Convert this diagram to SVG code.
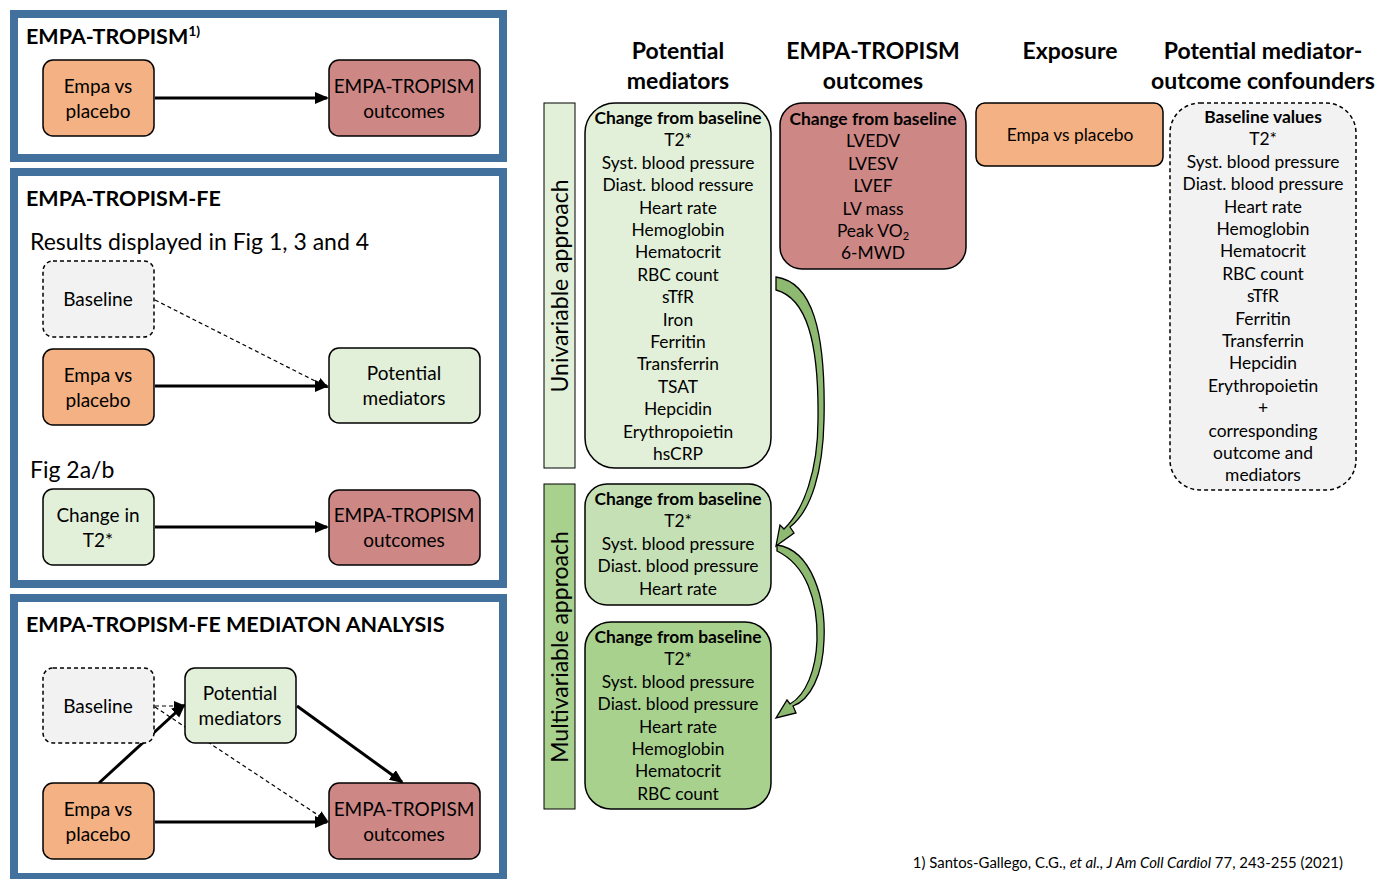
<svg xmlns="http://www.w3.org/2000/svg" width="1378" height="879" viewBox="0 0 1378 879">
<style>
text{font-family:Lato,"Liberation Sans",sans-serif;fill:#000}
.panel{fill:#fff;stroke:#41719C;stroke-width:8}
.node{stroke:#000;stroke-width:1.5}
.orange{fill:#F4B183}
.rose{fill:#CD8785}
.lgreen{fill:#E2F0D9}
.mgreen{fill:#C5E0B4}
.green{fill:#A9D18E}
.grey{fill:#F2F2F2}
.dash{stroke-dasharray:4 3}
.ptitle{font-size:21.5px;font-weight:bold}
.ntxt{font-size:19px;text-anchor:middle}
.ltxt{font-size:17.4px;text-anchor:middle}
.htxt{font-size:23px;font-weight:bold;text-anchor:middle}
.vtxt{font-size:23px;text-anchor:middle}
.thick{stroke:#000;stroke-width:3;fill:none}
.thin{stroke:#000;stroke-width:1.2;fill:none;stroke-dasharray:4 3}
.carrow{fill:#8DB971;stroke:#000;stroke-width:1.3}
</style>
<defs>
<marker id="ah" markerUnits="userSpaceOnUse" markerWidth="16" markerHeight="14" refX="12" refY="6" orient="auto"><path d="M0,0 L14,6 L0,12 z" fill="#000"/></marker>
<marker id="ahs" markerUnits="userSpaceOnUse" markerWidth="14" markerHeight="12" refX="10" refY="5" orient="auto"><path d="M0,0 L12,5 L0,10 z" fill="#000"/></marker>
</defs>

<!-- panels -->
<g id="panel1"><rect class="panel" x="14" y="14" width="489" height="144"/>
<text class="ptitle" x="26" y="44">EMPA-TROPISM<tspan font-size="14" dy="-8">1)</tspan></text></g>
<g id="panel2"><rect class="panel" x="14" y="172" width="489" height="412"/>
<text class="ptitle" x="26" y="206">EMPA-TROPISM-FE</text>
<text x="30" y="250" font-size="23">Results displayed in Fig 1, 3 and 4</text>
<text x="30" y="478" font-size="23">Fig 2a/b</text></g>
<g id="panel3"><rect class="panel" x="14" y="598" width="489" height="279"/>
<text class="ptitle" x="26" y="632">EMPA-TROPISM-FE MEDIATON ANALYSIS</text></g>

<!-- connectors -->
<g id="connectors">
<line class="thick" x1="155" y1="98" x2="327" y2="98" marker-end="url(#ah)"/>
<line class="thin" x1="155" y1="300" x2="327" y2="387" marker-end="url(#ahs)"/>
<line class="thick" x1="155" y1="386" x2="327" y2="386" marker-end="url(#ah)"/>
<line class="thick" x1="155" y1="527" x2="327" y2="527" marker-end="url(#ah)"/>
<line class="thin" x1="155" y1="707" x2="327" y2="821" marker-end="url(#ahs)"/>
<line class="thin" x1="155" y1="706" x2="184" y2="706" marker-end="url(#ahs)"/>
<line class="thick" x1="99" y1="783" x2="184" y2="705" marker-end="url(#ah)"/>
<line class="thick" x1="297" y1="706" x2="402" y2="782" marker-end="url(#ah)"/>
<line class="thick" x1="155" y1="822" x2="327" y2="822" marker-end="url(#ah)"/>
<path class="carrow" d="M776,277 C812,282 826,330 824,420 C823,470 812,510 790,527 L794,533 L776,546 L780,525 L784,529 C804,510 818,470 818,420 C819,340 806,298 776,290 Z"/>
<path class="carrow" d="M777,545 C812,550 826,600 824,640 C823,675 810,700 793,706 L796,713 L776,718 L787,700 L790,704 C806,695 816,670 817,640 C818,600 806,565 777,551 Z"/>
</g>

<!-- panel 1 nodes -->
<g id="p1-empa"><rect class="node orange" x="43" y="60" width="111" height="76" rx="10"/>
<text class="ntxt" x="98" y="93">Empa vs</text><text class="ntxt" x="98" y="118">placebo</text></g>
<g id="p1-out"><rect class="node rose" x="329" y="60" width="151" height="76" rx="10"/>
<text class="ntxt" x="404" y="93">EMPA-TROPISM</text><text class="ntxt" x="404" y="118">outcomes</text></g>

<!-- panel 2 nodes -->
<g id="p2-base"><rect class="node grey dash" x="43" y="261" width="111" height="76" rx="10"/>
<text class="ntxt" x="98" y="306">Baseline</text></g>
<g id="p2-empa"><rect class="node orange" x="43" y="349" width="111" height="76" rx="10"/>
<text class="ntxt" x="98" y="382">Empa vs</text><text class="ntxt" x="98" y="407">placebo</text></g>
<g id="p2-med"><rect class="node lgreen" x="329" y="348" width="151" height="75" rx="10"/>
<text class="ntxt" x="404" y="380">Potential</text><text class="ntxt" x="404" y="405">mediators</text></g>
<g id="p2-t2"><rect class="node lgreen" x="43" y="489" width="111" height="76" rx="10"/>
<text class="ntxt" x="98" y="522">Change in</text><text class="ntxt" x="98" y="547">T2*</text></g>
<g id="p2-out"><rect class="node rose" x="329" y="490" width="151" height="75" rx="10"/>
<text class="ntxt" x="404" y="522">EMPA-TROPISM</text><text class="ntxt" x="404" y="547">outcomes</text></g>

<!-- panel 3 nodes -->
<g id="p3-base"><rect class="node grey dash" x="43" y="668" width="111" height="75" rx="10"/>
<text class="ntxt" x="98" y="713">Baseline</text></g>
<g id="p3-med"><rect class="node lgreen" x="185" y="668" width="111" height="75" rx="10"/>
<text class="ntxt" x="240" y="700">Potential</text><text class="ntxt" x="240" y="725">mediators</text></g>
<g id="p3-empa"><rect class="node orange" x="43" y="783" width="111" height="76" rx="10"/>
<text class="ntxt" x="98" y="816">Empa vs</text><text class="ntxt" x="98" y="841">placebo</text></g>
<g id="p3-out"><rect class="node rose" x="329" y="783" width="151" height="76" rx="10"/>
<text class="ntxt" x="404" y="816">EMPA-TROPISM</text><text class="ntxt" x="404" y="841">outcomes</text></g>

<!-- headers -->
<g id="headers">
<text class="htxt" x="678" y="59">Potential</text><text class="htxt" x="678" y="89">mediators</text>
<text class="htxt" x="873" y="59">EMPA-TROPISM</text><text class="htxt" x="873" y="89">outcomes</text>
<text class="htxt" x="1070" y="59">Exposure</text>
<text class="htxt" x="1263" y="59">Potential mediator-</text><text class="htxt" x="1263" y="89">outcome confounders</text>
</g>

<g id="univariable"><rect class="lgreen" stroke="#000" stroke-width="1" x="544" y="103" width="31" height="365"/>
<text class="vtxt" transform="translate(568,286) rotate(-90)" x="0" y="0">Univariable approach</text></g>
<g id="multivariable"><rect class="green" stroke="#000" stroke-width="1" x="544" y="484" width="31" height="325"/>
<text class="vtxt" transform="translate(568,647) rotate(-90)" x="0" y="0">Multivariable approach</text></g>

<g id="uni-mediators"><rect class="node lgreen" x="585" y="103" width="186" height="365" rx="30"/>
<text class="ltxt" x="678" y="124"><tspan font-weight="bold">Change from baseline</tspan><tspan x="678" dy="22.4">T2*</tspan><tspan x="678" dy="22.4">Syst. blood pressure</tspan><tspan x="678" dy="22.4">Diast. blood ressure</tspan><tspan x="678" dy="22.4">Heart rate</tspan><tspan x="678" dy="22.4">Hemoglobin</tspan><tspan x="678" dy="22.4">Hematocrit</tspan><tspan x="678" dy="22.4">RBC count</tspan><tspan x="678" dy="22.4">sTfR</tspan><tspan x="678" dy="22.4">Iron</tspan><tspan x="678" dy="22.4">Ferritin</tspan><tspan x="678" dy="22.4">Transferrin</tspan><tspan x="678" dy="22.4">TSAT</tspan><tspan x="678" dy="22.4">Hepcidin</tspan><tspan x="678" dy="22.4">Erythropoietin</tspan><tspan x="678" dy="22.4">hsCRP</tspan></text></g>

<g id="outcomes"><rect class="node rose" x="780" y="103" width="186" height="166" rx="22"/>
<text class="ltxt" x="873" y="125"><tspan font-weight="bold">Change from baseline</tspan><tspan x="873" dy="22.4">LVEDV</tspan><tspan x="873" dy="22.4">LVESV</tspan><tspan x="873" dy="22.4">LVEF</tspan><tspan x="873" dy="22.4">LV mass</tspan><tspan x="873" dy="22.4">Peak VO<tspan font-size="11" baseline-shift="-3">2</tspan></tspan><tspan x="873" dy="22.4">6-MWD</tspan></text></g>

<g id="exposure"><rect class="node orange" x="976" y="103" width="187" height="63" rx="9"/>
<text class="ltxt" x="1070" y="141">Empa vs placebo</text></g>

<g id="confounders"><rect class="node grey dash" x="1170" y="103" width="186" height="387" rx="30"/>
<text class="ltxt" x="1263" y="123"><tspan font-weight="bold">Baseline values</tspan><tspan x="1263" dy="22.4">T2*</tspan><tspan x="1263" dy="22.4">Syst. blood pressure</tspan><tspan x="1263" dy="22.4">Diast. blood pressure</tspan><tspan x="1263" dy="22.4">Heart rate</tspan><tspan x="1263" dy="22.4">Hemoglobin</tspan><tspan x="1263" dy="22.4">Hematocrit</tspan><tspan x="1263" dy="22.4">RBC count</tspan><tspan x="1263" dy="22.4">sTfR</tspan><tspan x="1263" dy="22.4">Ferritin</tspan><tspan x="1263" dy="22.4">Transferrin</tspan><tspan x="1263" dy="22.4">Hepcidin</tspan><tspan x="1263" dy="22.4">Erythropoietin</tspan><tspan x="1263" dy="22.4">+</tspan><tspan x="1263" dy="22.4">corresponding</tspan><tspan x="1263" dy="22.4">outcome and</tspan><tspan x="1263" dy="22.4">mediators</tspan></text></g>

<g id="multi-1"><rect class="node mgreen" x="585" y="484" width="186" height="121" rx="22"/>
<text class="ltxt" x="678" y="505"><tspan font-weight="bold">Change from baseline</tspan><tspan x="678" dy="22.4">T2*</tspan><tspan x="678" dy="22.4">Syst. blood pressure</tspan><tspan x="678" dy="22.4">Diast. blood pressure</tspan><tspan x="678" dy="22.4">Heart rate</tspan></text></g>

<g id="multi-2"><rect class="node green" x="585" y="622" width="186" height="187" rx="26"/>
<text class="ltxt" x="678" y="643"><tspan font-weight="bold">Change from baseline</tspan><tspan x="678" dy="22.4">T2*</tspan><tspan x="678" dy="22.4">Syst. blood pressure</tspan><tspan x="678" dy="22.4">Diast. blood pressure</tspan><tspan x="678" dy="22.4">Heart rate</tspan><tspan x="678" dy="22.4">Hemoglobin</tspan><tspan x="678" dy="22.4">Hematocrit</tspan><tspan x="678" dy="22.4">RBC count</tspan></text></g>

<text x="1343" y="868" font-size="14.9" text-anchor="end">1) Santos-Gallego, C.G., <tspan font-style="italic">et al., J Am Coll Cardiol</tspan> 77, 243-255 (2021)</text>
</svg>
